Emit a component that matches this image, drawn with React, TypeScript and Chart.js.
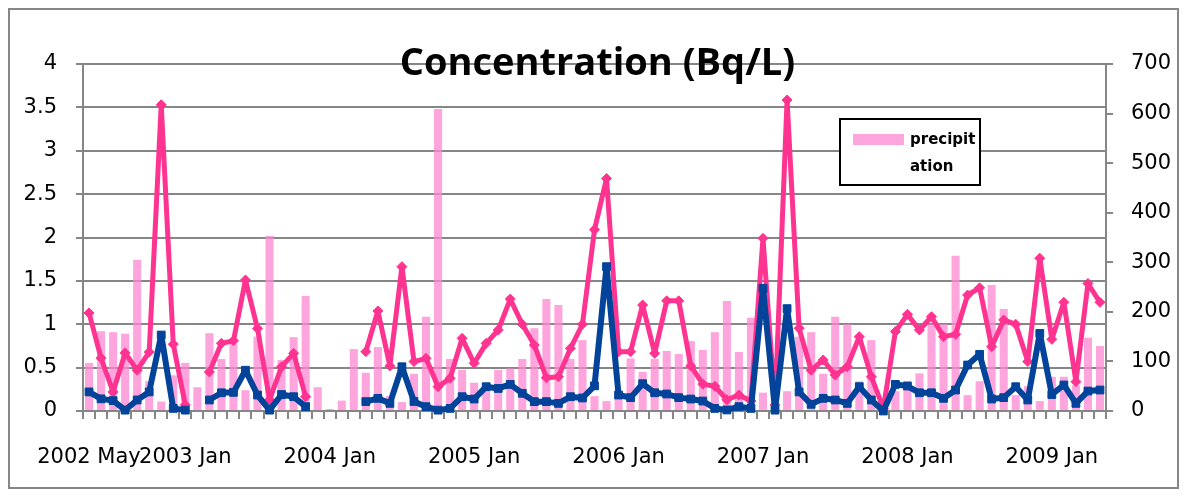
import React, { useEffect, useRef } from "react";
import { Chart, registerables } from "chart.js";

Chart.register(...registerables);

const MONTH_NAMES = ["Jan", "Feb", "Mar", "Apr", "May", "Jun", "Jul", "Aug", "Sep", "Oct", "Nov", "Dec"];
const START_YEAR = 2002;
const START_MONTH = 4; // May
const MONTH_COUNT = 85; // 2002 May .. 2009 May

const categories: string[] = [];
for (let k = 0; k < MONTH_COUNT; k++) {
  const m = (START_MONTH + k) % 12;
  const y = START_YEAR + Math.floor((START_MONTH + k) / 12);
  categories.push(`${y} ${MONTH_NAMES[m]}`);
}

// precipitation (right axis)
const precipitation = [
  97, 161, 159, 156, 305, 60, 19, 72, 97, 48,
  157, 105, 135, 42, 150, 353, 103, 149, 232, 48,
  4, 21, 125, 77, 129, 30, 18, 75, 190, 609,
  105, 83, 57, 45, 83, 86, 105, 167, 226, 214,
  105, 143, 30, 20, 29, 106, 79, 105, 121, 115,
  141, 123, 159, 222, 119, 188, 37, 5, 40, 150,
  159, 75, 190, 175, 60, 143, 0, 40, 60, 76,
  175, 175, 313, 32, 60, 254, 206, 32, 50, 20,
  69, 69, 52, 148, 131,
];

// concentration, pink series (left axis)
const concentrationPink = [
  1.13, 0.61, 0.22, 0.67, 0.47, 0.68, 3.53, 0.77, 0.07, null,
  0.45, 0.78, 0.81, 1.51, 0.95, 0.13, 0.51, 0.665, 0.165, null,
  null, null, null, 0.684, 1.153, 0.52, 1.664, 0.57, 0.607, 0.28,
  0.377, 0.838, 0.55, 0.78, 0.934, 1.29, 1.0, 0.76, 0.384, 0.396,
  0.722, 1.0, 2.09, 2.68, 0.684, 0.684, 1.222, 0.665, 1.27, 1.27,
  0.52, 0.31, 0.285, 0.13, 0.185, 0.115, 1.99, 0.07, 3.585, 0.953,
  0.47, 0.588, 0.415, 0.51, 0.857, 0.396, 0.03, 0.915, 1.114, 0.934,
  1.087, 0.857, 0.884, 1.337, 1.42, 0.742, 1.05, 1.0, 0.57, 1.76,
  0.826, 1.253, 0.338, 1.47, 1.253,
];

// concentration, blue series (left axis)
const concentrationBlue = [
  0.22, 0.14, 0.12, 0.01, 0.127, 0.22, 0.876, 0.03, 0.01, null,
  0.127, 0.21, 0.215, 0.47, 0.184, 0.01, 0.19, 0.165, 0.05, null,
  null, null, null, 0.108, 0.146, 0.088, 0.51, 0.11, 0.05, 0.01,
  0.03, 0.165, 0.138, 0.28, 0.26, 0.307, 0.204, 0.108, 0.108, 0.088,
  0.165, 0.15, 0.29, 1.664, 0.184, 0.154, 0.315, 0.21, 0.196, 0.154,
  0.138, 0.115, 0.03, 0.012, 0.05, 0.03, 1.414, 0.01, 1.18, 0.22,
  0.077, 0.146, 0.127, 0.088, 0.28, 0.127, 0.0, 0.307, 0.288, 0.21,
  0.21, 0.146, 0.242, 0.53, 0.653, 0.138, 0.154, 0.28, 0.127, 0.895,
  0.19, 0.3, 0.088, 0.23, 0.242,
];

const TITLE = "Concentration (Bq/L)";
const LEGEND_LINES = ["precipit", "ation"];

const GRID = "rgb(134,134,134)";
const PINK = "#ff3390";
const BLUE = "#03449a";
const BAR = "rgba(255,135,210,0.75)";
const BAR_SWATCH = "#ffa5dd";
const TICK_FONT = { family: "'DejaVu Sans'", size: 21 };

const decorPlugin = {
  id: "decor",
  beforeDraw(chart: any) {
    const { ctx, width, height } = chart;
    ctx.save();
    ctx.fillStyle = "#ffffff";
    ctx.fillRect(0, 0, width, height);
    ctx.restore();
  },
  afterDraw(chart: any) {
    const { ctx, width, height } = chart;
    ctx.save();
    // outer border
    ctx.strokeStyle = GRID;
    ctx.lineWidth = 2;
    ctx.strokeRect(1, 1, width - 2, height - 2);

    // title
    ctx.fillStyle = "#000";
    ctx.font = "bold 38px 'Open Sans'";
    ctx.textAlign = "center";
    ctx.textBaseline = "alphabetic";
    ctx.fillText(TITLE, 589.5, 67);

    // legend
    const lx = 832, ly = 111, lw = 140, lh = 66;
    ctx.fillStyle = "#fff";
    ctx.fillRect(lx, ly, lw, lh);
    ctx.strokeStyle = "#000";
    ctx.lineWidth = 2;
    ctx.strokeRect(lx, ly, lw, lh);
    ctx.fillStyle = BAR_SWATCH;
    ctx.fillRect(845, 126, 51, 11);
    ctx.fillStyle = "#000";
    ctx.font = "bold 15px 'DejaVu Sans'";
    ctx.textAlign = "left";
    ctx.fillText(LEGEND_LINES[0], 902, 136);
    ctx.fillText(LEGEND_LINES[1], 902, 163);
    ctx.restore();
  },
};

export default function App() {
  const canvasRef = useRef<HTMLCanvasElement | null>(null);

  useEffect(() => {
    if (!canvasRef.current) return;
    const chart = new Chart(canvasRef.current, {
      type: "bar",
      data: {
        labels: categories,
        datasets: [
          {
            type: "line",
            label: "concentration 2",
            data: concentrationBlue,
            yAxisID: "y",
            borderColor: BLUE,
            backgroundColor: BLUE,
            borderWidth: 6,
            borderJoinStyle: "round",
            borderCapStyle: "round",
            pointStyle: "rect",
            pointRadius: 5.5,
            pointBorderWidth: 1,
            pointBackgroundColor: BLUE,
            pointBorderColor: BLUE,
            spanGaps: false,
            tension: 0,
            clip: false,
            order: 1,
          },
          {
            type: "line",
            label: "concentration 1",
            data: concentrationPink,
            yAxisID: "y",
            borderColor: PINK,
            backgroundColor: PINK,
            borderWidth: 5,
            borderJoinStyle: "round",
            borderCapStyle: "round",
            pointStyle: "rectRot",
            pointRadius: 5,
            pointBorderWidth: 1,
            pointBackgroundColor: PINK,
            pointBorderColor: PINK,
            spanGaps: false,
            tension: 0,
            clip: false,
            order: 2,
          },
          {
            type: "bar",
            label: "precipitation",
            data: precipitation,
            yAxisID: "y1",
            backgroundColor: BAR,
            borderWidth: 0,
            categoryPercentage: 1,
            barPercentage: 0.67,
            order: 3,
          },
        ],
      },
      options: {
        responsive: false,
        animation: false,
        events: [],
        layout: { padding: { top: 56, left: 0, right: 0, bottom: 0 } },
        plugins: {
          legend: { display: false },
          title: { display: false },
          tooltip: { enabled: false },
        },
        scales: {
          x: {
            type: "category",
            offset: true,
            afterFit: (scale: any) => {
              scale.height = 78;
            },
            grid: {
              offset: true,
              drawOnChartArea: false,
              drawTicks: true,
              tickLength: 8,
              color: GRID,
              lineWidth: 2,
            },
            border: { display: true, color: GRID, width: 2 },
            ticks: {
              autoSkip: false,
              maxRotation: 0,
              minRotation: 0,
              padding: 26,
              color: "#000",
              font: TICK_FONT,
              callback: (_v: any, index: number) => {
                const label = categories[index];
                if (index === 0 || label.endsWith("Jan")) return label;
                return "";
              },
            },
          },
          y: {
            position: "left",
            min: 0,
            max: 4,
            afterFit: (scale: any) => {
              scale.width = 75;
            },
            grid: {
              drawOnChartArea: true,
              drawTicks: true,
              tickLength: 7,
              color: GRID,
              lineWidth: 2,
            },
            border: { display: true, color: GRID, width: 2 },
            ticks: {
              stepSize: 0.5,
              padding: 19,
              color: "#000",
              font: TICK_FONT,
              callback: (v: any) => String(v),
            },
          },
          y1: {
            position: "right",
            min: 0,
            max: 700,
            afterFit: (scale: any) => {
              scale.width = 73;
            },
            grid: {
              drawOnChartArea: false,
              drawTicks: true,
              tickLength: 7,
              color: GRID,
              lineWidth: 2,
            },
            border: { display: true, color: GRID, width: 2 },
            ticks: {
              stepSize: 100,
              padding: 18,
              color: "#000",
              font: TICK_FONT,
              callback: (v: any) => String(v),
            },
          },
        },
      },
      plugins: [decorPlugin],
    } as any);
    return () => chart.destroy();
  }, []);

  return (
    <div style={{ width: 1171, height: 481 }}>
      <canvas ref={canvasRef} width={1171} height={481} style={{ display: "block" }} />
    </div>
  );
}
